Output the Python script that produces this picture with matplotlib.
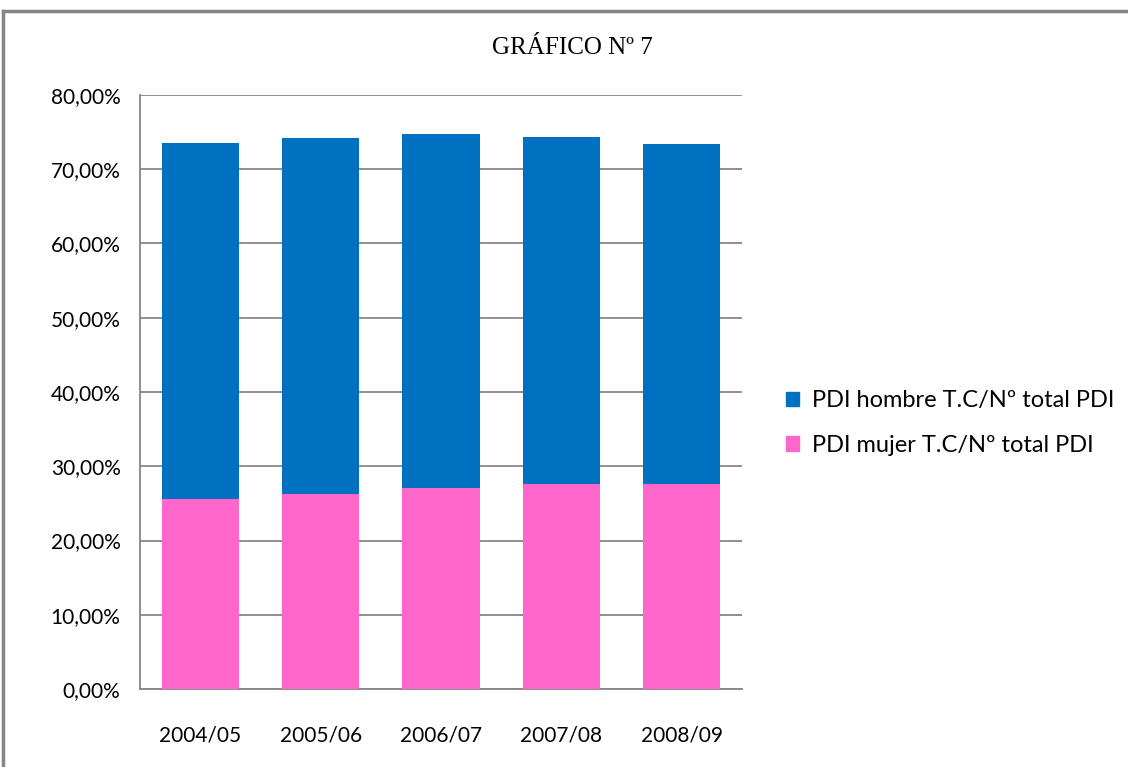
import matplotlib
matplotlib.use("Agg")
import matplotlib.pyplot as plt
from matplotlib.ticker import FuncFormatter
from matplotlib.lines import Line2D
from matplotlib.patches import Patch

categories = ["2004/05", "2005/06", "2006/07", "2007/08", "2008/09"]
mujer = [25.6, 26.3, 27.1, 27.65, 27.65]
hombre = [48.0, 47.95, 47.7, 46.75, 45.75]
title = "GRÁFICO Nº 7"
label_hombre = "PDI hombre T.C/Nº total PDI"
label_mujer = "PDI mujer T.C/Nº total PDI"

blue = "#0070C0"
pink = "#FF66CC"
grid = "#868686"

fig = plt.figure(figsize=(11.28, 7.67), dpi=100)
W, H = 1128, 767
ax = fig.add_axes([140 / W, 1 - 689 / H, (742 - 140) / W, (689 - 95) / H])

x = list(range(len(categories)))
ax.bar(x, mujer, width=0.64, color=pink, zorder=3, label=label_mujer)
ax.bar(x, hombre, bottom=mujer, width=0.64, color=blue, zorder=3, label=label_hombre)

ax.set_ylim(0, 80)
ax.set_xlim(-0.5, len(categories) - 0.5)
ax.set_yticks(range(0, 81, 10))
ax.yaxis.set_major_formatter(FuncFormatter(lambda v, p: f"{v:.2f}%".replace(".", ",")))
ax.set_xticks(x)
ax.set_xticklabels(categories)
ax.yaxis.grid(True, color=grid, linewidth=1.3, zorder=0)
ax.set_axisbelow(True)
for s in ["top", "right"]:
    ax.spines[s].set_visible(False)
for s in ["left", "bottom"]:
    ax.spines[s].set_color(grid)
    ax.spines[s].set_linewidth(1.3)
ax.tick_params(axis="both", length=0, labelsize=15, colors="black")
ax.tick_params(axis="y", pad=14)
ax.tick_params(axis="x", pad=26)
for lab in ax.get_xticklabels() + ax.get_yticklabels():
    lab.set_fontfamily("Lato")

fig.text(572 / W, 1 - 48 / H, title, ha="center", va="center",
         fontfamily="Liberation Serif", fontsize=18, fontstretch="condensed")

handles = [Patch(color=blue), Patch(color=pink)]
leg = fig.legend(handles, [label_hombre, label_mujer], loc="upper left",
                 bbox_to_anchor=(765 / W, 1 - 369 / H), frameon=False,
                 prop={"family": "Lato", "size": 17}, handlelength=0.55,
                 handleheight=0.55, handletextpad=0.55, labelspacing=1.0)

# outer chart border
fig.add_artist(Line2D([3 / W, 3 / W], [0, 1 - 11 / H], transform=fig.transFigure, color=grid, linewidth=2.5))
fig.add_artist(Line2D([3 / W, 1], [1 - 11 / H, 1 - 11 / H], transform=fig.transFigure, color=grid, linewidth=2.5))

fig.savefig("out.png", dpi=100)
